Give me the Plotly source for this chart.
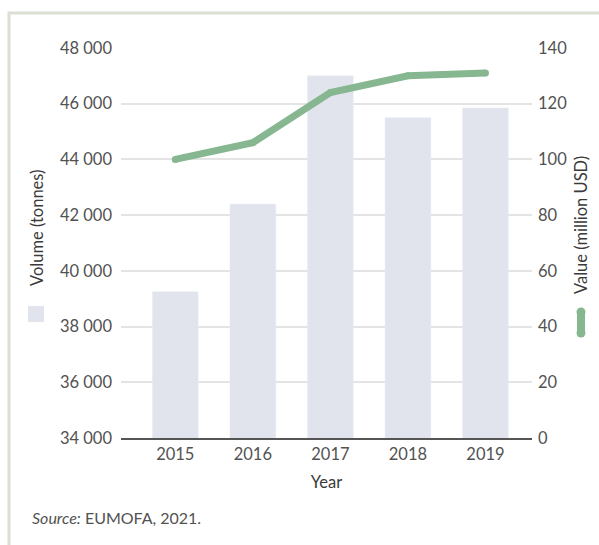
import plotly.graph_objects as go

# Annual volume (tonnes, bars) and value (million USD, line)
years = ["2015", "2016", "2017", "2018", "2019"]
volume_tonnes = [39250, 42400, 47000, 45500, 45850]
value_musd = [100, 106, 124, 130, 131]

vol_ticks = [34000, 36000, 38000, 40000, 42000, 44000, 46000, 48000]
val_ticks = [0, 20, 40, 60, 80, 100, 120, 140]

BAR_COLOR = "#e1e4ec"
LINE_COLOR = "#86b790"
TEXT_COLOR = "#525252"
TITLE_COLOR = "#3a3a3a"
GRID_COLOR = "#e4e4e4"
FRAME_COLOR = "#d9e0d1"
FONT = "Lato, 'Noto Sans', sans-serif"

W, H = 599, 545
L, R, T, B = 121, 67, 48, 107
PW, PH = W - L - R, H - T - B


def px(x):
    return (x - L) / PW


def py(y):
    return (H - B - y) / PH


fig = go.Figure()

fig.add_trace(go.Bar(
    x=years, y=volume_tonnes, marker_color=BAR_COLOR, width=0.59,
    name="Volume (tonnes)", yaxis="y", hoverinfo="x+y",
))
fig.add_trace(go.Scatter(
    x=years, y=value_musd, mode="lines+markers", yaxis="y2",
    line=dict(color=LINE_COLOR, width=7),
    marker=dict(color=LINE_COLOR, size=7),
    name="Value (million USD)",
))

shapes = [
    # outer frame
    dict(type="rect", xref="paper", yref="paper",
         x0=px(9), x1=px(620), y0=py(13), y1=py(570),
         line=dict(color=FRAME_COLOR, width=3), fillcolor="rgba(0,0,0,0)",
         layer="below"),
    # key for the bars (under the left axis title)
    dict(type="rect", xref="paper", yref="paper",
         x0=px(28), x1=px(44), y0=py(322), y1=py(306),
         line=dict(width=0), fillcolor=BAR_COLOR),
    # key for the line (under the right axis title)
    dict(type="line", xref="paper", yref="paper",
         x0=px(581), x1=px(581), y0=py(333), y1=py(312),
         line=dict(color=LINE_COLOR, width=8)),
    dict(type="circle", xref="paper", yref="paper",
         x0=px(576.5), x1=px(585.5), y0=py(316.5), y1=py(307.5),
         line=dict(width=0), fillcolor=LINE_COLOR),
    dict(type="circle", xref="paper", yref="paper",
         x0=px(576.5), x1=px(585.5), y0=py(337.5), y1=py(328.5),
         line=dict(width=0), fillcolor=LINE_COLOR),
]

annotations = [
    dict(text="Volume (tonnes)", textangle=-90, xref="paper", yref="paper",
         x=px(37), y=py(228), showarrow=False, xanchor="center", yanchor="middle",
         font=dict(size=16.5, color=TITLE_COLOR, family=FONT)),
    dict(text="Value (million USD)", textangle=-90, xref="paper", yref="paper",
         x=px(581), y=py(225), showarrow=False, xanchor="center", yanchor="middle",
         font=dict(size=16.5, color=TITLE_COLOR, family=FONT)),
    dict(text="<i>Source:</i> EUMOFA, 2021.", xref="paper", yref="paper",
         x=px(30), y=py(517), showarrow=False, xanchor="left", yanchor="middle",
         font=dict(size=16, color=TEXT_COLOR, family=FONT)),
]

fig.update_layout(
    width=W, height=H,
    margin=dict(l=L, r=R, t=T, b=B, pad=0),
    paper_bgcolor="white", plot_bgcolor="white",
    showlegend=False,
    separators=". ",
    font=dict(family=FONT, size=16.5, color=TEXT_COLOR),
    bargap=0.4,
    xaxis=dict(
        type="category", range=[-0.7, 4.6],
        showline=True, linecolor="#555555", linewidth=1.5,
        showgrid=False, ticks="", ticklabelstandoff=0,
        title=dict(text="Year", standoff=14,
                   font=dict(size=16.5, color=TITLE_COLOR)),
        zeroline=False,
    ),
    yaxis=dict(
        range=[34000, 48000], tickvals=vol_ticks, tickformat=",d",
        showgrid=True, gridcolor=GRID_COLOR, gridwidth=1.5,
        zeroline=False, showline=False, ticks="", ticklabelstandoff=8,
    ),
    yaxis2=dict(
        range=[0, 140], tickvals=val_ticks, overlaying="y", side="right",
        showgrid=False, zeroline=False, showline=False, ticks="",
        ticklabelstandoff=5,
    ),
    shapes=shapes,
    annotations=annotations,
)

fig.write_html("out.html")
